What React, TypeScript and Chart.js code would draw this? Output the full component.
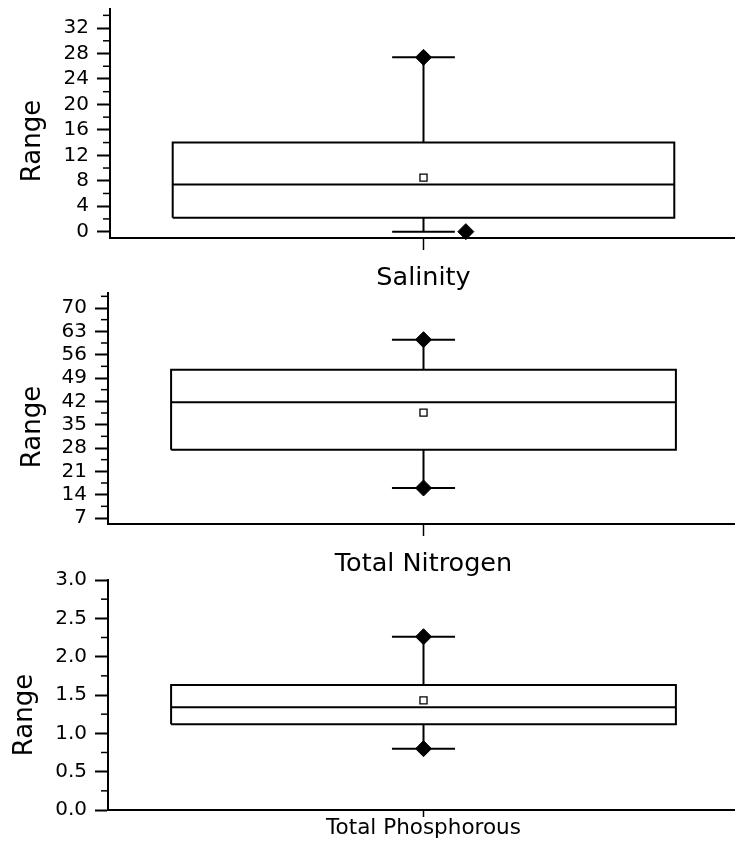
import React, { useEffect, useRef } from 'react';
import { Chart, registerables } from 'chart.js';

Chart.register(...registerables);

// Box-plot statistics, one entry per variable (top to bottom)
const categories = ['Salinity', 'Total Nitrogen', 'Total Phosphorous'];
const lowerQuartiles = [2.2, 27.5, 1.12];
const medians = [7.4, 41.7, 1.34];
const upperQuartiles = [14.0, 51.5, 1.63];
const means = [8.5, 38.6, 1.43];
const whiskerLows = [0, 16.0, 0.8];
const whiskerHighs = [27.4, 60.5, 2.26];

// Y-axis tick labels for each panel
const salinityTicks = [0, 4, 8, 12, 16, 20, 24, 28, 32];
const nitrogenTicks = [7, 14, 21, 28, 35, 42, 49, 56, 63, 70];
const phosphorousTicks = [0, 0.5, 1.0, 1.5, 2.0, 2.5, 3.0];
const majorTicks = [salinityTicks, nitrogenTicks, phosphorousTicks];
const axisMins = [-1, 5.2, 0];
const axisMaxes = [35, 74.5, 3];
const tickDecimals = [0, 0, 1];

const FONT = '"DejaVu Sans", "Liberation Sans", Arial, sans-serif';

// Page placement of each panel's canvas and plot area
const panelLayouts = [
  { top: 0, height: 300, width: 746, axisX: 110, plotTop: 6, plotBottom: 238, labelSize: 25.5, xTick: 12, xPad: 13, titleX: 39.5, titleY: 141, lowMarkX: 1.135 },
  { top: 260, height: 330, width: 748, axisX: 108, plotTop: 293, plotBottom: 524, labelSize: 25.5, xTick: 12, xPad: 13, titleX: 39.5, titleY: 427, lowMarkX: 1 },
  { top: 560, height: 295, width: 748, axisX: 108, plotTop: 580, plotBottom: 810, labelSize: 21.5, xTick: 7, xPad: -1, titleX: 31.5, titleY: 715, lowMarkX: 1 },
];

const BOX_LEFT = 0.2;
const BOX_RIGHT = 1.8;
const CENTER = 1;
const CAP_HALF = 0.1;

function minorTicksFor(major: number[], min: number, max: number): number[] {
  const out: number[] = [];
  const step = major[1] - major[0];
  if (major[0] - step / 2 >= min) out.push(major[0] - step / 2);
  for (let i = 0; i < major.length - 1; i++) out.push((major[i] + major[i + 1]) / 2);
  const last = major[major.length - 1] + step / 2;
  if (last <= max) out.push(last);
  return out;
}

// Draws minor y ticks and the rotated "Range" caption
const panelDecor = {
  id: 'panelDecor',
  afterDraw(chart: any, _args: any, opts: any) {
    const { ctx } = chart;
    const y = chart.scales.y;
    ctx.save();
    ctx.strokeStyle = '#000';
    ctx.lineWidth = 1.5;
    (opts.minor as number[]).forEach((v) => {
      const py = y.getPixelForValue(v);
      ctx.beginPath();
      ctx.moveTo(y.right - 7, py);
      ctx.lineTo(y.right, py);
      ctx.stroke();
    });
    ctx.translate(opts.titleX, opts.titleY);
    ctx.rotate(-Math.PI / 2);
    ctx.font = `26px ${FONT}`;
    ctx.fillStyle = '#000';
    ctx.textAlign = 'center';
    ctx.textBaseline = 'alphabetic';
    ctx.fillText('Range', 0, 0);
    ctx.restore();
  },
};

function lineSet(points: { x: number; y: number }[]) {
  return {
    data: points,
    showLine: true,
    borderColor: '#000',
    borderWidth: 2,
    pointRadius: 0,
    fill: false,
    clip: false as any,
  };
}

function BoxPanel({ index }: { index: number }) {
  const ref = useRef<HTMLCanvasElement>(null);
  const L = panelLayouts[index];

  useEffect(() => {
    if (!ref.current) return;
    const q1 = lowerQuartiles[index];
    const q3 = upperQuartiles[index];
    const med = medians[index];
    const lo = whiskerLows[index];
    const hi = whiskerHighs[index];
    const major = majorTicks[index];
    const minor = minorTicksFor(major, axisMins[index], axisMaxes[index]);
    const plotBottomInCanvas = L.plotBottom - L.top;

    const chart = new Chart(ref.current, {
      type: 'scatter',
      data: {
        datasets: [
          lineSet([
            { x: BOX_LEFT, y: q1 },
            { x: BOX_LEFT, y: q3 },
            { x: BOX_RIGHT, y: q3 },
            { x: BOX_RIGHT, y: q1 },
            { x: BOX_LEFT, y: q1 },
          ]),
          lineSet([
            { x: BOX_LEFT, y: med },
            { x: BOX_RIGHT, y: med },
          ]),
          lineSet([
            { x: CENTER, y: q3 },
            { x: CENTER, y: hi },
          ]),
          lineSet([
            { x: CENTER - CAP_HALF, y: hi },
            { x: CENTER + CAP_HALF, y: hi },
          ]),
          lineSet([
            { x: CENTER, y: q1 },
            { x: CENTER, y: lo },
          ]),
          lineSet([
            { x: CENTER - CAP_HALF, y: lo },
            { x: CENTER + CAP_HALF, y: lo },
          ]),
          {
            data: [
              { x: CENTER, y: hi },
              { x: L.lowMarkX, y: lo },
            ],
            pointStyle: 'rectRot',
            pointRadius: 8,
            backgroundColor: '#000',
            borderColor: '#000',
            borderWidth: 1,
            clip: false as any,
          },
          {
            data: [{ x: CENTER, y: means[index] }],
            pointStyle: 'rect',
            pointRadius: 5,
            backgroundColor: '#fff',
            borderColor: '#000',
            borderWidth: 1.3,
            clip: false as any,
          },
        ],
      },
      options: {
        responsive: false,
        animation: false,
        devicePixelRatio: 1,
        layout: { padding: { top: L.plotTop - L.top, left: 0, right: 0, bottom: 0 } },
        plugins: {
          legend: { display: false },
          tooltip: { enabled: false },
          panelDecor: { minor, titleX: L.titleX, titleY: L.titleY - L.top },
        } as any,
        scales: {
          x: {
            type: 'linear',
            min: 0,
            max: 2,
            afterBuildTicks: (s: any) => {
              s.ticks = [{ value: CENTER }];
            },
            afterFit: (s: any) => {
              s.height = L.height - plotBottomInCanvas;
              s.paddingLeft = 0;
              s.paddingRight = 0;
            },
            ticks: {
              autoSkip: false,
              maxRotation: 0,
              padding: L.xPad,
              color: '#000',
              font: { family: FONT, size: L.labelSize },
              callback: () => categories[index],
            },
            grid: {
              display: true,
              drawOnChartArea: false,
              drawTicks: true,
              tickLength: L.xTick,
              tickWidth: 1.5,
              tickColor: '#000',
            },
            border: { display: true, color: '#000', width: 2 },
          },
          y: {
            type: 'linear',
            min: axisMins[index],
            max: axisMaxes[index],
            afterBuildTicks: (s: any) => {
              s.ticks = major.map((v) => ({ value: v }));
            },
            afterFit: (s: any) => {
              s.width = L.axisX;
              s.paddingTop = 0;
              s.paddingBottom = 0;
            },
            ticks: {
              autoSkip: false,
              padding: 8,
              color: '#000',
              font: { family: FONT, size: 20 },
              callback: (v: any) => Number(v).toFixed(tickDecimals[index]),
            },
            grid: {
              display: true,
              drawOnChartArea: false,
              drawTicks: true,
              tickLength: 13,
              tickWidth: 2,
              tickColor: '#000',
            },
            border: { display: true, color: '#000', width: 2 },
          },
        },
      },
      plugins: [panelDecor],
    } as any);

    return () => chart.destroy();
  }, [index]);

  return (
    <canvas
      ref={ref}
      width={L.width}
      height={L.height}
      style={{ position: 'absolute', left: 0, top: L.top, width: L.width, height: L.height }}
    />
  );
}

export default function App() {
  return (
    <div
      style={{
        position: 'fixed',
        left: 0,
        top: 0,
        width: 735,
        height: 855,
        overflow: 'hidden',
        background: '#fff',
      }}
    >
      {categories.map((_, i) => (
        <BoxPanel key={i} index={i} />
      ))}
    </div>
  );
}
